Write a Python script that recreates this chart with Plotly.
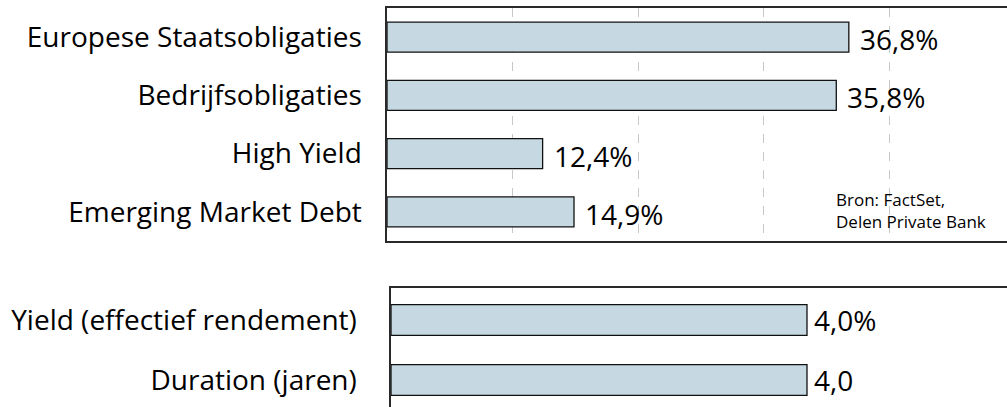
import plotly.graph_objects as go

top_categories = ["Europese Staatsobligaties", "Bedrijfsobligaties", "High Yield", "Emerging Market Debt"]
top_values = [36.8, 35.8, 12.4, 14.9]
top_labels = ["36,8%", "35,8%", "12,4%", "14,9%"]

bottom_categories = ["Yield (effectief rendement)", "Duration (jaren)"]
bottom_values = [4.0, 4.0]
bottom_labels = ["4,0%", "4,0"]

source_lines = ["Bron: FactSet,", "Delen Private Bank"]

W, H = 1007, 407
FONT = "Open Sans"
FS = 28
BAR_FILL = "#C6D9E2"
FRAME = "#2a2a2a"

def fy(page_y):
    return 1 - page_y / H

def fx(page_x):
    return page_x / W

fig = go.Figure()
fig.add_trace(go.Bar(
    x=top_values, y=top_categories, orientation="h",
    marker=dict(color=BAR_FILL, line=dict(color="#111111", width=1.3)),
    xaxis="x", yaxis="y", hoverinfo="skip", showlegend=False,
))
fig.add_trace(go.Bar(
    x=bottom_values, y=bottom_categories, orientation="h",
    marker=dict(color=BAR_FILL, line=dict(color="#111111", width=1.3)),
    xaxis="x2", yaxis="y2", hoverinfo="skip", showlegend=False,
))

annotations = []
for v, c, t in zip(top_values, top_categories, top_labels):
    annotations.append(dict(x=v, y=c, xref="x", yref="y", text=t, showarrow=False,
                             xanchor="left", yanchor="middle", xshift=9, yshift=-2,
                             font=dict(family=FONT, size=FS, color="black")))
for v, c, t in zip(bottom_values, bottom_categories, bottom_labels):
    annotations.append(dict(x=v, y=c, xref="x2", yref="y2", text=t, showarrow=False,
                             xanchor="left", yanchor="middle", xshift=5, yshift=0,
                             font=dict(family=FONT, size=FS, color="black")))
annotations.append(dict(x=fx(834), y=fy(186), xref="paper", yref="paper",
                        text="<br>".join(source_lines), showarrow=False, align="left",
                        xanchor="left", yanchor="top",
                        font=dict(family=FONT, size=17, color="black")))

fig.update_layout(
    width=W, height=H,
    margin=dict(l=0, r=0, t=0, b=0),
    paper_bgcolor="white", plot_bgcolor="white",
    bargap=0.485,
    annotations=annotations,
    font=dict(family=FONT, size=FS, color="black"),
    xaxis=dict(domain=[fx(387), 1], range=[0, (1007 - 387) / 12.55], anchor="y",
               showgrid=True, gridcolor="#C8C8C8", griddash="dash", gridwidth=1,
               dtick=10, tick0=0, showticklabels=False, ticks="",
               showline=True, linecolor=FRAME, linewidth=1.6, mirror=True,
               zeroline=False, fixedrange=True),
    yaxis=dict(domain=[fy(241), fy(8)], range=[3.5, -0.5], anchor="x",
               showline=True, linecolor=FRAME, linewidth=1.6, mirror=False,
               showgrid=False, ticks="", ticklabelstandoff=18,
               tickfont=dict(family=FONT, size=FS, color="black"), fixedrange=True),
    xaxis2=dict(domain=[fx(391), 1], range=[0, (1007 - 391) / 104.0], anchor="y2",
                showgrid=False, showticklabels=False, ticks="",
                showline=True, linecolor=FRAME, linewidth=1.6, mirror=True,
                zeroline=False, fixedrange=True),
    yaxis2=dict(domain=[0, fy(288)], range=[(119 - 32) / 60, -32 / 60], anchor="x2",
                showline=True, linecolor=FRAME, linewidth=1.6, mirror=False,
                showgrid=False, ticks="", ticklabelstandoff=27,
                tickfont=dict(family=FONT, size=FS, color="black"), fixedrange=True),
)

fig.write_html(
    "out.html",
    config={"displayModeBar": False, "staticPlot": True},
    post_script="document.body.style.margin='0px';document.body.style.overflow='hidden';",
)
